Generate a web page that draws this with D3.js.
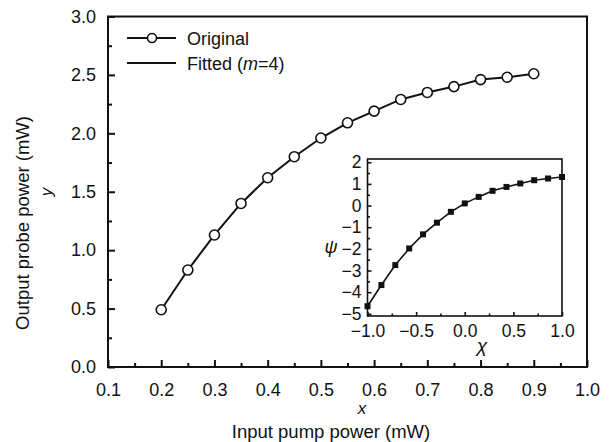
<!DOCTYPE html>
<html>
<head>
<meta charset="utf-8">
<script src="https://cdn.jsdelivr.net/npm/d3@7"></script>
<style>
  body { margin: 0; background: #fff; }
  text { font-family: "Liberation Sans", Arial, sans-serif; fill: #111; }
</style>
</head>
<body>
<svg id="chart" width="610" height="442"></svg>
<script>
// main plot data: input pump power (mW) vs output probe power (mW)
var pump = [0.20, 0.25, 0.30, 0.35, 0.40, 0.45, 0.50, 0.55, 0.60, 0.65, 0.70, 0.75, 0.80, 0.85, 0.90];
var probe = [0.49, 0.83, 1.13, 1.40, 1.62, 1.80, 1.96, 2.09, 2.19, 2.29, 2.35, 2.40, 2.46, 2.48, 2.51];

// inset data: normalised chi vs psi
var chi = [-1.0, -0.857, -0.714, -0.571, -0.429, -0.286, -0.143, 0.0, 0.143, 0.286, 0.429, 0.571, 0.714, 0.857, 1.0];
var psi = [-4.65, -3.67, -2.75, -1.98, -1.33, -0.79, -0.29, 0.10, 0.40, 0.68, 0.86, 1.02, 1.17, 1.25, 1.32];

var xTicks = [0.1, 0.2, 0.3, 0.4, 0.5, 0.6, 0.7, 0.8, 0.9, 1.0];
var yTicks = [0.0, 0.5, 1.0, 1.5, 2.0, 2.5, 3.0];
var chiTicks = [-1.0, -0.5, 0.0, 0.5, 1.0];
var psiTicks = [-5, -4, -3, -2, -1, 0, 1, 2];

var legendNames = ["Original", "Fitted"];

function draw() {
	var svg = d3.select("#chart");

	var mL = 108, mR = 587, mT = 16.5, mB = 367;

	var x = d3.scaleLinear().domain([0.1, 1.0]).range([mL, mR]);
	var y = d3.scaleLinear().domain([0, 3]).range([mB, mT]);

	function mids(t) {
		var m = [];
		for (var i = 0; i < t.length - 1; i++) m.push((t[i] + t[i + 1]) / 2);
		return m;
	}

	// frame
	svg.append("rect")
		.attr("x", mL).attr("y", mT)
		.attr("width", mR - mL).attr("height", mB - mT)
		.attr("fill", "none").attr("stroke", "#111").attr("stroke-width", 2);

	var xAxis = d3.axisBottom(x).tickValues(xTicks).tickFormat(d3.format(".1f"))
		.tickSizeInner(-7).tickSizeOuter(0).tickPadding(16);
	var gx = svg.append("g").attr("transform", "translate(0," + mB + ")").call(xAxis);
	var gxm = svg.append("g").attr("transform", "translate(0," + mB + ")")
		.call(d3.axisBottom(x).tickValues(mids(xTicks)).tickFormat("").tickSizeInner(-4).tickSizeOuter(0));

	var yAxis = d3.axisLeft(y).tickValues(yTicks).tickFormat(d3.format(".1f"))
		.tickSizeInner(-7).tickSizeOuter(0).tickPadding(12);
	var gy = svg.append("g").attr("transform", "translate(" + mL + ",0)").call(yAxis);
	var gym = svg.append("g").attr("transform", "translate(" + mL + ",0)")
		.call(d3.axisLeft(y).tickValues(mids(yTicks)).tickFormat("").tickSizeInner(-4).tickSizeOuter(0));

	[gx, gxm, gy, gym].forEach(function(g) {
		g.select(".domain").remove();
		g.selectAll(".tick line").attr("stroke", "#111").attr("stroke-width", 2);
		g.selectAll(".tick text").style("font-size", "18px").attr("fill", "#111");
	});

	// axis titles
	svg.append("text")
		.attr("x", 362).attr("y", 414)
		.attr("text-anchor", "middle")
		.style("font-size", "17px").style("font-style", "italic")
		.text("x");
	svg.append("text")
		.attr("x", 331).attr("y", 438)
		.attr("text-anchor", "middle")
		.style("font-size", "18.5px")
		.text("Input pump power (mW)");
	svg.append("text")
		.attr("transform", "translate(29,223) rotate(-90)")
		.attr("text-anchor", "middle")
		.style("font-size", "18.5px")
		.text("Output probe power (mW)");
	svg.append("text")
		.attr("transform", "translate(52,192) rotate(-90)")
		.attr("text-anchor", "middle")
		.style("font-size", "17px").style("font-style", "italic")
		.text("y");

	// main curve
	var pts = pump.map(function(d, i) { return [d, probe[i]]; });
	var line = d3.line().x(function(d) { return x(d[0]); }).y(function(d) { return y(d[1]); });

	svg.append("path")
		.datum(pts)
		.attr("d", line)
		.attr("fill", "none").attr("stroke", "#111").attr("stroke-width", 2);

	svg.selectAll(".pt")
		.data(pts)
		.enter().append("circle")
		.attr("class", "pt")
		.attr("cx", function(d) { return x(d[0]); })
		.attr("cy", function(d) { return y(d[1]); })
		.attr("r", 5)
		.attr("fill", "#fff").attr("stroke", "#111").attr("stroke-width", 1.6);

	// legend
	var legend = svg.selectAll(".legend")
		.data(legendNames)
		.enter().append("g")
		.attr("class", "legend")
		.attr("transform", function(d, i) { return "translate(127," + (38 + i * 25) + ")"; });

	legend.append("line")
		.attr("x1", 0).attr("x2", 49).attr("y1", 0).attr("y2", 0)
		.attr("stroke", "#111").attr("stroke-width", 2);

	legend.filter(function(d, i) { return i == 0; })
		.append("circle")
		.attr("cx", 25).attr("cy", 0).attr("r", 4.5)
		.attr("fill", "#fff").attr("stroke", "#111").attr("stroke-width", 1.6);

	var legText = legend.append("text")
		.attr("x", 60).attr("y", 6.5)
		.style("font-size", "18px");
	legText.filter(function(d, i) { return i == 0; }).text(function(d) { return d; });
	var fit = legText.filter(function(d, i) { return i == 1; });
	fit.append("tspan").text("Fitted (");
	fit.append("tspan").style("font-style", "italic").text("m");
	fit.append("tspan").text("=4)");

	// inset
	var iL = 367.5, iR = 562, iT = 159, iB = 316;
	var xi = d3.scaleLinear().domain([-1, 1]).range([iL, iR]);
	var yi = d3.scaleLinear().domain([-5.1, 2.15]).range([iB, iT]);

	svg.append("rect")
		.attr("x", iL).attr("y", iT)
		.attr("width", iR - iL).attr("height", iB - iT)
		.attr("fill", "#fff").attr("stroke", "#111").attr("stroke-width", 1.6);

	var gxi = svg.append("g").attr("transform", "translate(0," + iB + ")")
		.call(d3.axisBottom(xi).tickValues(chiTicks).tickFormat(d3.format(".1f"))
			.tickSizeInner(-4).tickSizeOuter(0).tickPadding(9));
	var gxim = svg.append("g").attr("transform", "translate(0," + iB + ")")
		.call(d3.axisBottom(xi).tickValues(mids(chiTicks)).tickFormat("").tickSizeInner(-2.5).tickSizeOuter(0));
	var gyi = svg.append("g").attr("transform", "translate(" + iL + ",0)")
		.call(d3.axisLeft(yi).tickValues(psiTicks).tickFormat(d3.format("d"))
			.tickSizeInner(-4).tickSizeOuter(0).tickPadding(6));
	var gyim = svg.append("g").attr("transform", "translate(" + iL + ",0)")
		.call(d3.axisLeft(yi).tickValues(mids(psiTicks)).tickFormat("").tickSizeInner(-2.5).tickSizeOuter(0));

	[gxi, gxim, gyi, gyim].forEach(function(g) {
		g.select(".domain").remove();
		g.selectAll(".tick line").attr("stroke", "#111").attr("stroke-width", 1.6);
		g.selectAll(".tick text").style("font-size", "17.5px").attr("fill", "#111");
	});

	svg.append("text")
		.attr("x", 482).attr("y", 352)
		.attr("text-anchor", "middle")
		.style("font-size", "19px").style("font-style", "italic")
		.text("χ");
	svg.append("text")
		.attr("x", 331).attr("y", 253)
		.attr("text-anchor", "middle")
		.style("font-size", "18px").style("font-style", "italic")
		.text("ψ");

	var ipts = chi.map(function(d, i) { return [d, psi[i]]; });
	var iline = d3.line().x(function(d) { return xi(d[0]); }).y(function(d) { return yi(d[1]); });

	svg.append("path")
		.datum(ipts)
		.attr("d", iline)
		.attr("fill", "none").attr("stroke", "#111").attr("stroke-width", 1.6);

	svg.selectAll(".sq")
		.data(ipts)
		.enter().append("rect")
		.attr("class", "sq")
		.attr("x", function(d) { return xi(d[0]) - 3; })
		.attr("y", function(d) { return yi(d[1]) - 3; })
		.attr("width", 6).attr("height", 6)
		.attr("fill", "#111");
}

draw();
</script>
</body>
</html>
